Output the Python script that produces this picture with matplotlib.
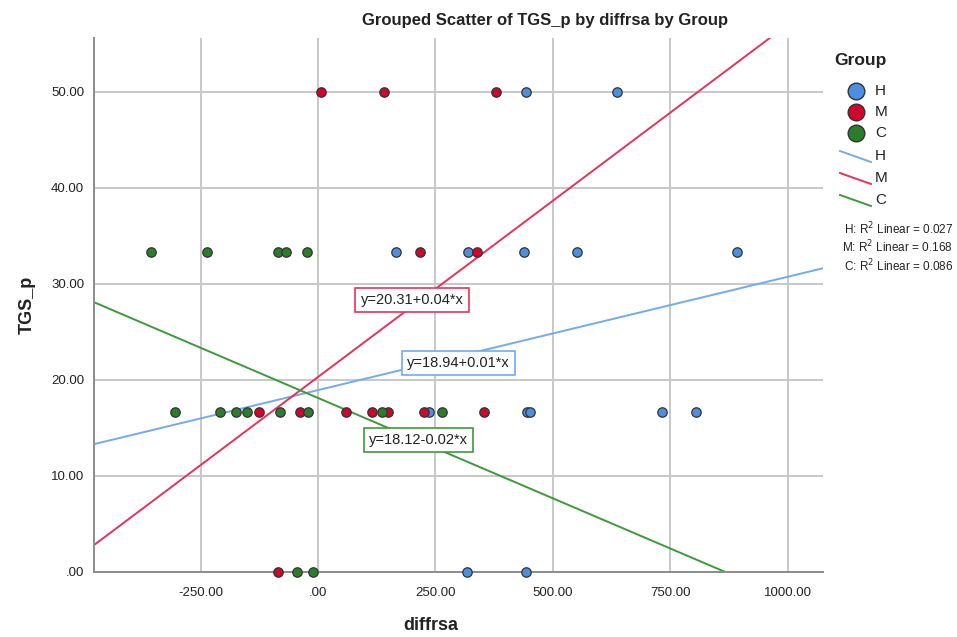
import matplotlib
matplotlib.use("Agg")
import matplotlib.pyplot as plt
from matplotlib.lines import Line2D
import numpy as np

plt.rcParams['font.family'] = ['Liberation Sans', 'DejaVu Sans']

# Data
h_x = [442.5, 635.5, 165, 318.5, 439, 552, 891, 236, 444, 452, 733, 803.6, 317.7, 442]
h_y = [50, 50, 33.33, 33.33, 33.33, 33.33, 33.33, 16.67, 16.67, 16.67, 16.67, 16.67, 0, 0]
m_x = [7, 140, 379, 218, 338, -125.5, -38.3, 59.6, 115.5, 148.3, 225.5, 353, -84.5]
m_y = [50, 50, 50, 33.33, 33.33, 16.67, 16.67, 16.67, 16.67, 16.67, 16.67, 16.67, 0]
c_x = [-355, -237, -84.5, -68, -24, -305, -208.5, -174.5, -151.7, -80.9, -21.9, 135.5, 263, -45.3, -11.3]
c_y = [33.33, 33.33, 33.33, 33.33, 33.33, 16.67, 16.67, 16.67, 16.67, 16.67, 16.67, 16.67, 16.67, 0, 0]

groups = ["H", "M", "C"]
intercepts = [18.94, 20.31, 18.12]
slopes = [0.0118, 0.0367, -0.0209]
eq_labels = ["y=18.94+0.01*x", "y=20.31+0.04*x", "y=18.12-0.02*x"]
r2_labels = ["H: R$^2$ Linear = 0.027", "M: R$^2$ Linear = 0.168", "C: R$^2$ Linear = 0.086"]
x_ticks = [-250, 0, 250, 500, 750, 1000]
x_tick_labels = ["-250.00", ".00", "250.00", "500.00", "750.00", "1000.00"]
y_ticks = [0, 10, 20, 30, 40, 50]
y_tick_labels = [".00", "10.00", "20.00", "30.00", "40.00", "50.00"]

fill_colors = ["#4a8fe0", "#d0042c", "#2a7e2a"]
line_colors = ["#74aaf0", "#e8325a", "#3c9a3c"]

W, H = 957, 637
fig = plt.figure(figsize=(W / 100, H / 100), dpi=100)
ax = fig.add_axes([94 / W, 1 - 572 / H, (823 - 94) / W, (572 - 38) / H])
xmin, xmax = -477, 1075
ax.set_xlim(xmin, xmax)
ax.set_ylim(0, 55.6)

ax.set_xticks(x_ticks)
ax.set_xticklabels(x_tick_labels)
ax.set_yticks(y_ticks)
ax.set_yticklabels(y_tick_labels)
ax.grid(True, color="#c8c8c8", lw=1.4)
ax.set_axisbelow(True)
for s in ["top", "right"]:
    ax.spines[s].set_visible(False)
for s in ["left", "bottom"]:
    ax.spines[s].set_color("#8c8c8c")
    ax.spines[s].set_linewidth(1.4)
ax.tick_params(axis="x", length=0, labelsize=9.5, colors="#222222", pad=11)
ax.tick_params(axis="y", length=0, labelsize=9.5, colors="#222222", pad=7)

# regression lines
xs = np.array([xmin, xmax])
for b0, b1, lc in zip(intercepts, slopes, line_colors):
    ax.plot(xs, b0 + b1 * xs, color=lc, lw=1.4, zorder=2, clip_on=True)

# points
for xv, yv, fc in zip([h_x, m_x, c_x], [h_y, m_y, c_y], fill_colors):
    ax.scatter(xv, yv, s=46, facecolor=fc, edgecolor="#333333", linewidth=0.9, zorder=3, clip_on=False)

# equation boxes (data coordinates)
box_pos = [(298, 21.8), (200, 28.3), (213, 13.75)]
for (bx, by), lab, lc in zip(box_pos, eq_labels, line_colors):
    ax.text(bx, by, lab, ha="center", va="center", fontsize=10.5, color="#222222", zorder=5,
            bbox=dict(boxstyle="square,pad=0.35", fc="white", ec=lc, lw=1.2))

# titles and labels
fig.text(545 / W, 1 - 21 / H, "Grouped Scatter of TGS_p by diffrsa by Group", ha="center", va="center",
         fontsize=12, fontweight="bold", color="#222222")
fig.text(431 / W, 1 - 625 / H, "diffrsa", ha="center", va="center", fontsize=13, fontweight="bold", color="#222222")
fig.text(27 / W, 1 - 305 / H, "TGS_p", ha="center", va="center", rotation=90, fontsize=13,
         fontweight="bold", color="#222222")

# legend (manual)
fig.text(834 / W, 1 - 60 / H, "Group", ha="left", va="center", fontsize=12.5, fontweight="bold", color="#222222")
marker_ys = [91, 112, 133]
line_ys = [156, 178, 200]
for i, g in enumerate(groups):
    y = 1 - marker_ys[i] / H
    fig.add_artist(Line2D([856 / W], [y], marker="o", markersize=12, markerfacecolor=fill_colors[i],
                          markeredgecolor="#333333", markeredgewidth=1.0, linestyle="none"))
    fig.text(875 / W, y, g, ha="left", va="center", fontsize=11, color="#222222")
for i, g in enumerate(groups):
    y = 1 - line_ys[i] / H
    fig.add_artist(Line2D([840 / W, 871 / W], [y + 5 / H, y - 6 / H], color=line_colors[i], lw=1.4))
    fig.text(875 / W, y, g, ha="left", va="center", fontsize=11, color="#222222")
r2_ys = [229, 247, 266]
for lab, ry in zip(r2_labels, r2_ys):
    fig.text(953 / W, 1 - ry / H, lab, ha="right", va="center", fontsize=8.5, color="#222222")

fig.savefig("out.png", dpi=100, facecolor="white")
